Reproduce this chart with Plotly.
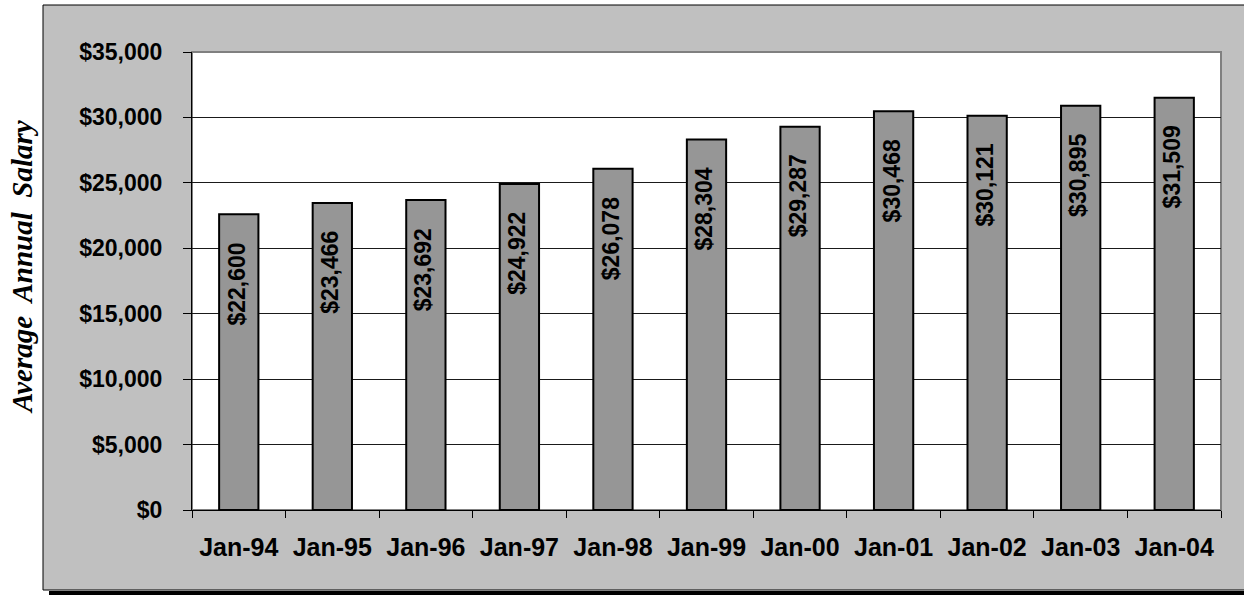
import plotly.graph_objects as go

# Average annual salary by year (January figures)
periods = ["Jan-94", "Jan-95", "Jan-96", "Jan-97", "Jan-98", "Jan-99",
           "Jan-00", "Jan-01", "Jan-02", "Jan-03", "Jan-04"]
salaries = [22600, 23466, 23692, 24922, 26078, 28304,
            29287, 30468, 30121, 30895, 31509]
y_ticks = [0, 5000, 10000, 15000, 20000, 25000, 30000, 35000]
y_tick_labels = ["$0", "$5,000", "$10,000", "$15,000", "$20,000",
                 "$25,000", "$30,000", "$35,000"]

W, H = 1244, 595
M_L, M_R, M_T, M_B = 192, 23, 52, 85
PW, PH = W - M_L - M_R, H - M_T - M_B


def px_x(p):
    return (p - M_L) / PW


def px_y(p):
    return (H - M_B - p) / PH


fig = go.Figure()
fig.add_trace(go.Bar(
    x=periods, y=salaries,
    marker=dict(color="#969696", line=dict(color="#000000", width=2)),
    hoverinfo="x+y",
))

label_font = dict(family="Liberation Sans, Arial", size=23, color="#000000", weight="bold")
annotations = []
for p, v in zip(periods, salaries):
    annotations.append(dict(
        x=p, y=v, xref="x", yref="y", text=f"${v:,}", textangle=-90,
        showarrow=False, yanchor="top", xanchor="center", yshift=-26, xshift=-2,
        font=label_font,
    ))

annotations.append(dict(
    x=px_x(22), y=px_y(267), xref="paper", yref="paper",
    text="<b><i>Average  Annual  Salary</i></b>", textangle=-90, showarrow=False,
    xanchor="center", yanchor="middle",
    font=dict(family="Liberation Serif, Times New Roman", size=29, color="#000000"),
))

shapes = [
    # outer grey chart frame
    dict(type="rect", xref="paper", yref="paper", layer="below",
         x0=px_x(43), x1=px_x(1260), y0=px_y(590), y1=px_y(5),
         fillcolor="#C0C0C0", line=dict(color="#000000", width=1)),
    # drop shadow under the frame
    dict(type="rect", xref="paper", yref="paper", layer="below",
         x0=px_x(49), x1=px_x(1260), y0=px_y(596), y1=px_y(591),
         fillcolor="#000000", line=dict(width=0)),
    # plot area
    dict(type="rect", xref="paper", yref="paper", layer="below",
         x0=0, x1=1, y0=0, y1=1,
         fillcolor="#FFFFFF", line=dict(color="#808080", width=2)),
]

fig.update_layout(
    width=W, height=H,
    margin=dict(l=M_L, r=M_R, t=M_T, b=M_B, pad=0),
    paper_bgcolor="#FFFFFF",
    plot_bgcolor="rgba(0,0,0,0)",
    bargap=0.58,
    showlegend=False,
    annotations=annotations,
    shapes=shapes,
)
fig.update_xaxes(
    type="category", categoryorder="array", categoryarray=periods,
    tickson="boundaries", ticks="outside", ticklen=7, tickcolor="#000000", tickwidth=1,
    showline=True, linecolor="#000000", linewidth=1,
    showgrid=False, ticklabelstandoff=15,
    tickfont=dict(family="Liberation Sans, Arial", size=25, color="#000000", weight="bold"),
)
fig.update_yaxes(
    range=[0, 35000], tickvals=y_ticks, ticktext=y_tick_labels,
    ticks="outside", ticklen=8, tickcolor="#000000", tickwidth=1,
    showline=True, linecolor="#000000", linewidth=1,
    showgrid=True, gridcolor="#1a1a1a", gridwidth=1, zeroline=False,
    ticklabelstandoff=16,
    tickfont=dict(family="Liberation Sans, Arial", size=23, color="#000000", weight="bold"),
)

fig.write_html("out.html")
